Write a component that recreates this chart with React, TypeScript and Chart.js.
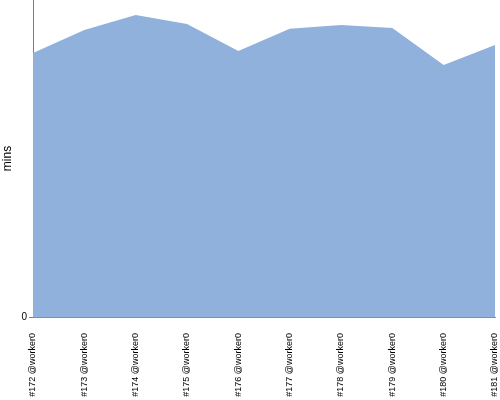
import React, { useEffect, useRef } from "react";
import { Chart, registerables } from "chart.js";

Chart.register(...registerables);

const categories: string[] = [
  "#172 @worker0",
  "#173 @worker0",
  "#174 @worker0",
  "#175 @worker0",
  "#176 @worker0",
  "#177 @worker0",
  "#178 @worker0",
  "#179 @worker0",
  "#180 @worker0",
  "#181 @worker0",
];

const durationMins: number[] = [83.3, 90.5, 95.3, 92.4, 83.9, 90.9, 92.1, 91.2, 79.5, 85.8];

const yMax = 100;
const yTickValues: number[] = [0];
const yTitle = "mins";

export default function App() {
  const ref = useRef<HTMLCanvasElement | null>(null);

  useEffect(() => {
    if (!ref.current) return;
    const chart = new Chart(ref.current, {
      type: "line",
      data: {
        labels: categories,
        datasets: [
          {
            data: durationMins,
            fill: "origin",
            backgroundColor: "#8fb1db",
            borderColor: "#8fb1db",
            borderWidth: 0,
            pointRadius: 0,
            tension: 0,
          },
        ],
      },
      options: {
        animation: false,
        responsive: false,
        maintainAspectRatio: false,
        layout: { padding: { top: 0, right: 5, left: 0, bottom: 0 } },
        plugins: { legend: { display: false }, tooltip: { enabled: false } },
        scales: {
          x: {
            offset: false,
            grid: { display: false, drawTicks: false },
            border: { display: true, color: "#7f8fa6", width: 1 },
            ticks: {
              autoSkip: false,
              minRotation: 90,
              maxRotation: 90,
              padding: 16,
              color: "#000",
              font: { family: "Liberation Sans, Arial, sans-serif", size: 9 },
            },
            afterFit: (s: any) => {
              s.height = 83;
              s.paddingLeft = 0;
              s.paddingRight = 0;
            },
          },
          y: {
            min: 0,
            max: yMax,
            title: {
              display: true,
              text: yTitle,
              color: "#000",
              padding: { top: 0, bottom: 2 },
              font: { family: "Liberation Sans, Arial, sans-serif", size: 12 },
            },
            grid: { drawOnChartArea: false, drawTicks: true, tickLength: 4, color: "#808080" },
            border: { display: true, color: "#808080", width: 1 },
            afterBuildTicks: (s: any) => {
              s.ticks = yTickValues.map((v) => ({ value: v }));
            },
            ticks: {
              padding: 2,
              color: "#000",
              font: { family: "Liberation Sans, Arial, sans-serif", size: 10 },
              callback: (v: any) => String(v),
            },
            afterFit: (s: any) => {
              s.width = 33;
              s.paddingTop = 0;
              s.paddingBottom = 0;
            },
          },
        },
      },
    });
    return () => chart.destroy();
  }, []);

  return (
    <div style={{ position: "fixed", left: 0, top: 0, width: 500, height: 400, background: "#fff", overflow: "hidden" }}>
      <canvas ref={ref} width={500} height={400} style={{ width: 500, height: 400, display: "block" }} />
    </div>
  );
}
